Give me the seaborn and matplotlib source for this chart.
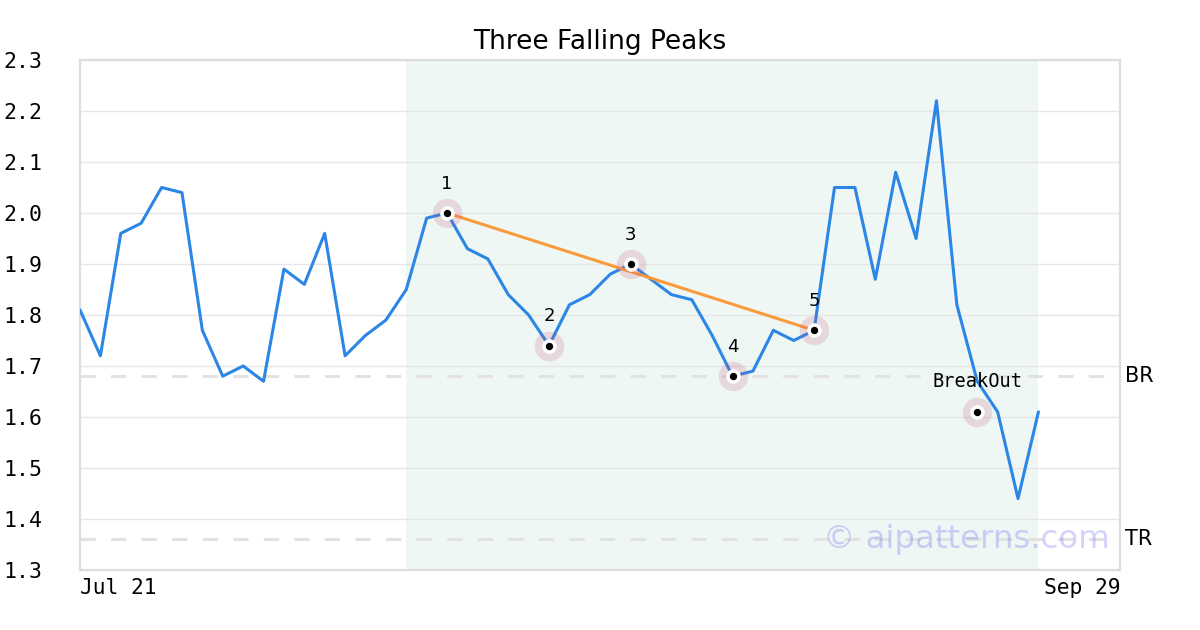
import numpy as np
import pandas as pd
import seaborn as sns
import matplotlib.pyplot as plt

# price series (trading-day index)
prices = [1.81, 1.72, 1.96, 1.98, 2.05, 2.04, 1.77, 1.68, 1.70, 1.67,
          1.89, 1.86, 1.96, 1.72, 1.76, 1.79, 1.85, 1.99, 2.00, 1.93,
          1.91, 1.84, 1.80, 1.74, 1.82, 1.84, 1.88, 1.90, 1.87, 1.84,
          1.83, 1.76, 1.68, 1.69, 1.77, 1.75, 1.77, 2.05, 2.05, 1.87,
          2.08, 1.95, 2.22, 1.82, 1.67, 1.61, 1.44, 1.61]

# pattern points
pivot_idx = [18, 23, 27, 32, 36]
pivot_val = [2.00, 1.74, 1.90, 1.68, 1.77]
pivot_lbl = ["1", "2", "3", "4", "5"]
breakout_idx = 44
breakout_val = 1.61

# trend line from peak 1 to peak 5
trend_idx = [18, 36]
trend_val = [2.00, 1.77]

br_level = 1.68
tr_level = 1.36
span = (16, 47)
x_ticks = [0, 51]
x_labels = ["Jul 21", "Sep 29"]

df = pd.DataFrame({"day": np.arange(len(prices)), "price": prices})

sns.set_style("white")
plt.rcParams["text.color"] = "black"
plt.rcParams["xtick.color"] = "black"
plt.rcParams["ytick.color"] = "black"

fig = plt.figure(figsize=(12, 6.3), dpi=100)
ax = fig.add_axes([80 / 1200, 60 / 630, 1040 / 1200, 510 / 630])

ax.axvspan(span[0], span[1], color="#eff7f4", zorder=0, lw=0)
ax.set_yticks(np.arange(1.3, 2.31, 0.1))
ax.yaxis.grid(True, color="#e6e6e6", lw=1, zorder=1)
ax.set_axisbelow(True)

ax.axhline(br_level, color="#e2e2e2", lw=2.2, ls=(0, (5, 5)), zorder=2)
ax.axhline(tr_level, color="#e2e2e2", lw=2.2, ls=(0, (5, 5)), zorder=2)

sns.lineplot(data=df, x="day", y="price", color="#2b86e6", lw=2.2, ax=ax, zorder=3)
ax.plot(trend_idx, trend_val, color="#f99b3d", lw=2.2, zorder=4)

mx = pivot_idx + [breakout_idx]
my = pivot_val + [breakout_val]
ax.scatter(mx, my, s=450, color="#c0587e", alpha=0.2, lw=0, zorder=5)
ax.scatter(mx, my, s=110, color="white", lw=0, zorder=6)
ax.scatter(mx, my, s=28, color="black", lw=0, zorder=7)

for i, v, t in zip(pivot_idx, pivot_val, pivot_lbl):
    ax.annotate(t, (i, v), xytext=(0, 21), textcoords="offset points",
                ha="center", va="center", fontsize=13, zorder=8)
ax.annotate("BreakOut", (breakout_idx, breakout_val), xytext=(0, 22),
            textcoords="offset points", ha="center", va="center",
            fontsize=13.4, family="DejaVu Sans Mono", zorder=8)

ax.text(1.005, br_level, "BR", transform=ax.get_yaxis_transform(),
        va="center", ha="left", fontsize=15)
ax.text(1.005, tr_level, "TR", transform=ax.get_yaxis_transform(),
        va="center", ha="left", fontsize=15)

ax.text(0.99, tr_level, "\u00a9 aipatterns.com", transform=ax.get_yaxis_transform(),
        va="center", ha="right", fontsize=23.3, color="#3a3aee", alpha=0.22, zorder=9)

ax.set_xlim(0, 51)
ax.set_ylim(1.3, 2.3)
ax.set_xticks(x_ticks)
ax.set_xticklabels(x_labels, family="DejaVu Sans Mono", fontsize=15.3)
for lab, ha in zip(ax.get_xticklabels(), ["left", "right"]):
    lab.set_horizontalalignment(ha)
ax.set_yticklabels([f"{v:.1f}" for v in np.arange(1.3, 2.31, 0.1)],
                   family="DejaVu Sans Mono", fontsize=15.5)
ax.tick_params(axis="both", length=0)
ax.tick_params(axis="y", pad=27)
ax.tick_params(axis="x", pad=6)
ax.set_xlabel("")
ax.set_ylabel("")

for s in ax.spines.values():
    s.set_visible(True)
    s.set_color("#dddddd")
    s.set_linewidth(1.6)

ax.set_title("Three Falling Peaks", fontsize=19, pad=8)

fig.savefig("out.png", dpi=100)
